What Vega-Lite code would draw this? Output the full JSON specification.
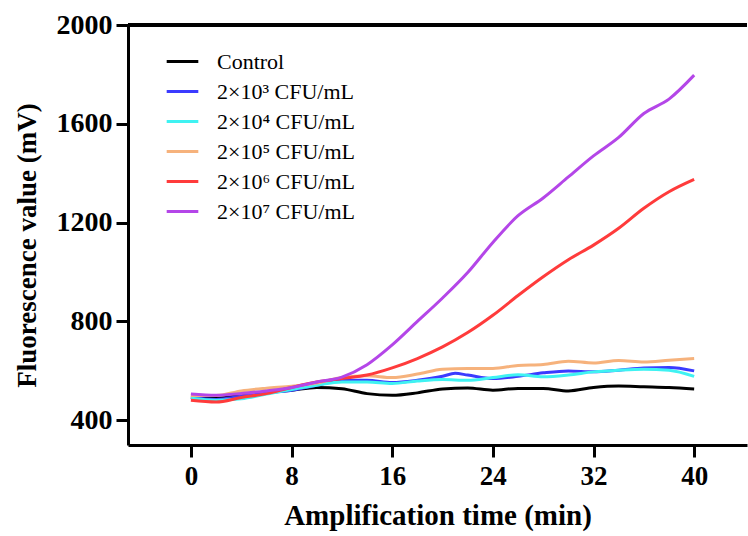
{
  "$schema": "https://vega.github.io/schema/vega-lite/v6.json",
  "autosize": {"type": "none"},
  "padding": {"left": 128, "top": 25, "right": 1, "bottom": 91},
  "width": 619,
  "height": 420,
  "background": "white",
  "config": {"view": {"stroke": null}},
  "data": {"values": [
    {"t":0,"s":"Control","v":492},{"t":2,"s":"Control","v":492},{"t":4,"s":"Control","v":502},{"t":6,"s":"Control","v":512},{"t":8,"s":"Control","v":522},{"t":10,"s":"Control","v":533},{"t":12,"s":"Control","v":528},{"t":14,"s":"Control","v":508},{"t":16,"s":"Control","v":501},{"t":18,"s":"Control","v":511},{"t":20,"s":"Control","v":527},{"t":22,"s":"Control","v":531},{"t":24,"s":"Control","v":522},{"t":26,"s":"Control","v":529},{"t":28,"s":"Control","v":529},{"t":30,"s":"Control","v":519},{"t":32,"s":"Control","v":533},{"t":34,"s":"Control","v":539},{"t":36,"s":"Control","v":536},{"t":38,"s":"Control","v":533},{"t":40,"s":"Control","v":527},
    {"t":0,"s":"2×10³ CFU/mL","v":492},{"t":2,"s":"2×10³ CFU/mL","v":484},{"t":4,"s":"2×10³ CFU/mL","v":497},{"t":6,"s":"2×10³ CFU/mL","v":511},{"t":8,"s":"2×10³ CFU/mL","v":522},{"t":10,"s":"2×10³ CFU/mL","v":542},{"t":12,"s":"2×10³ CFU/mL","v":562},{"t":14,"s":"2×10³ CFU/mL","v":562},{"t":16,"s":"2×10³ CFU/mL","v":553},{"t":18,"s":"2×10³ CFU/mL","v":562},{"t":20,"s":"2×10³ CFU/mL","v":578},{"t":21,"s":"2×10³ CFU/mL","v":590},{"t":22,"s":"2×10³ CFU/mL","v":583},{"t":24,"s":"2×10³ CFU/mL","v":569},{"t":26,"s":"2×10³ CFU/mL","v":578},{"t":28,"s":"2×10³ CFU/mL","v":592},{"t":30,"s":"2×10³ CFU/mL","v":600},{"t":32,"s":"2×10³ CFU/mL","v":596},{"t":34,"s":"2×10³ CFU/mL","v":603},{"t":36,"s":"2×10³ CFU/mL","v":612},{"t":38,"s":"2×10³ CFU/mL","v":614},{"t":40,"s":"2×10³ CFU/mL","v":600},
    {"t":0,"s":"2×10⁴ CFU/mL","v":489},{"t":2,"s":"2×10⁴ CFU/mL","v":481},{"t":4,"s":"2×10⁴ CFU/mL","v":487},{"t":6,"s":"2×10⁴ CFU/mL","v":506},{"t":8,"s":"2×10⁴ CFU/mL","v":525},{"t":10,"s":"2×10⁴ CFU/mL","v":542},{"t":12,"s":"2×10⁴ CFU/mL","v":555},{"t":14,"s":"2×10⁴ CFU/mL","v":555},{"t":16,"s":"2×10⁴ CFU/mL","v":549},{"t":18,"s":"2×10⁴ CFU/mL","v":559},{"t":20,"s":"2×10⁴ CFU/mL","v":565},{"t":22,"s":"2×10⁴ CFU/mL","v":562},{"t":24,"s":"2×10⁴ CFU/mL","v":573},{"t":26,"s":"2×10⁴ CFU/mL","v":584},{"t":28,"s":"2×10⁴ CFU/mL","v":576},{"t":30,"s":"2×10⁴ CFU/mL","v":583},{"t":32,"s":"2×10⁴ CFU/mL","v":596},{"t":34,"s":"2×10⁴ CFU/mL","v":603},{"t":36,"s":"2×10⁴ CFU/mL","v":607},{"t":38,"s":"2×10⁴ CFU/mL","v":603},{"t":40,"s":"2×10⁴ CFU/mL","v":578},
    {"t":0,"s":"2×10⁵ CFU/mL","v":500},{"t":2,"s":"2×10⁵ CFU/mL","v":500},{"t":4,"s":"2×10⁵ CFU/mL","v":519},{"t":6,"s":"2×10⁵ CFU/mL","v":530},{"t":8,"s":"2×10⁵ CFU/mL","v":538},{"t":10,"s":"2×10⁵ CFU/mL","v":551},{"t":12,"s":"2×10⁵ CFU/mL","v":573},{"t":14,"s":"2×10⁵ CFU/mL","v":580},{"t":16,"s":"2×10⁵ CFU/mL","v":573},{"t":18,"s":"2×10⁵ CFU/mL","v":587},{"t":20,"s":"2×10⁵ CFU/mL","v":607},{"t":22,"s":"2×10⁵ CFU/mL","v":610},{"t":24,"s":"2×10⁵ CFU/mL","v":610},{"t":26,"s":"2×10⁵ CFU/mL","v":622},{"t":28,"s":"2×10⁵ CFU/mL","v":626},{"t":30,"s":"2×10⁵ CFU/mL","v":639},{"t":32,"s":"2×10⁵ CFU/mL","v":632},{"t":34,"s":"2×10⁵ CFU/mL","v":642},{"t":36,"s":"2×10⁵ CFU/mL","v":636},{"t":38,"s":"2×10⁵ CFU/mL","v":643},{"t":40,"s":"2×10⁵ CFU/mL","v":650},
    {"t":0,"s":"2×10⁶ CFU/mL","v":481},{"t":2,"s":"2×10⁶ CFU/mL","v":474},{"t":4,"s":"2×10⁶ CFU/mL","v":492},{"t":6,"s":"2×10⁶ CFU/mL","v":508},{"t":8,"s":"2×10⁶ CFU/mL","v":533},{"t":10,"s":"2×10⁶ CFU/mL","v":555},{"t":12,"s":"2×10⁶ CFU/mL","v":569},{"t":14,"s":"2×10⁶ CFU/mL","v":583},{"t":16,"s":"2×10⁶ CFU/mL","v":612},{"t":18,"s":"2×10⁶ CFU/mL","v":650},{"t":20,"s":"2×10⁶ CFU/mL","v":697},{"t":22,"s":"2×10⁶ CFU/mL","v":755},{"t":24,"s":"2×10⁶ CFU/mL","v":825},{"t":26,"s":"2×10⁶ CFU/mL","v":905},{"t":28,"s":"2×10⁶ CFU/mL","v":981},{"t":30,"s":"2×10⁶ CFU/mL","v":1050},{"t":32,"s":"2×10⁶ CFU/mL","v":1109},{"t":34,"s":"2×10⁶ CFU/mL","v":1177},{"t":36,"s":"2×10⁶ CFU/mL","v":1258},{"t":38,"s":"2×10⁶ CFU/mL","v":1325},{"t":40,"s":"2×10⁶ CFU/mL","v":1375},
    {"t":0,"s":"2×10⁷ CFU/mL","v":506},{"t":2,"s":"2×10⁷ CFU/mL","v":501},{"t":4,"s":"2×10⁷ CFU/mL","v":508},{"t":6,"s":"2×10⁷ CFU/mL","v":519},{"t":8,"s":"2×10⁷ CFU/mL","v":533},{"t":10,"s":"2×10⁷ CFU/mL","v":555},{"t":12,"s":"2×10⁷ CFU/mL","v":575},{"t":14,"s":"2×10⁷ CFU/mL","v":625},{"t":16,"s":"2×10⁷ CFU/mL","v":705},{"t":18,"s":"2×10⁷ CFU/mL","v":800},{"t":20,"s":"2×10⁷ CFU/mL","v":895},{"t":22,"s":"2×10⁷ CFU/mL","v":998},{"t":24,"s":"2×10⁷ CFU/mL","v":1120},{"t":26,"s":"2×10⁷ CFU/mL","v":1228},{"t":28,"s":"2×10⁷ CFU/mL","v":1300},{"t":30,"s":"2×10⁷ CFU/mL","v":1385},{"t":32,"s":"2×10⁷ CFU/mL","v":1470},{"t":34,"s":"2×10⁷ CFU/mL","v":1545},{"t":36,"s":"2×10⁷ CFU/mL","v":1642},{"t":38,"s":"2×10⁷ CFU/mL","v":1700},{"t":40,"s":"2×10⁷ CFU/mL","v":1797}
  ]},
  "layer": [
    {
      "mark": {"type": "line", "interpolate": "monotone", "strokeWidth": 3},
      "encoding": {
        "x": {"field": "t", "type": "quantitative",
          "scale": {"domain": [-5, 44.2], "nice": false, "zero": false},
          "axis": {"values": [0, 8, 16, 24, 32, 40], "title": "Amplification time (min)", "grid": false, "format": "d",
            "domainColor": "black", "domainWidth": 3, "tickColor": "black", "tickWidth": 3, "tickSize": 12,
            "labelFont": "Liberation Serif", "labelFontWeight": "bold", "labelFontSize": 27, "labelColor": "black", "labelPadding": 6,
            "titleFont": "Liberation Serif", "titleFontWeight": "bold", "titleFontSize": 29, "titleColor": "black", "titlePadding": 12}},
        "y": {"field": "v", "type": "quantitative",
          "scale": {"domain": [300, 2000], "nice": false, "zero": false},
          "axis": {"values": [400, 800, 1200, 1600, 2000], "title": "Fluorescence value (mV)", "grid": false, "format": "d",
            "domainColor": "black", "domainWidth": 3, "tickColor": "black", "tickWidth": 3, "tickSize": 12,
            "labelFont": "Liberation Serif", "labelFontWeight": "bold", "labelFontSize": 28, "labelColor": "black", "labelPadding": 4,
            "titleFont": "Liberation Serif", "titleFontWeight": "bold", "titleFontSize": 27, "titleColor": "black", "titlePadding": 15, "titleY": 220}},
        "color": {"field": "s", "type": "nominal",
          "scale": {"domain": ["Control", "2×10³ CFU/mL", "2×10⁴ CFU/mL", "2×10⁵ CFU/mL", "2×10⁶ CFU/mL", "2×10⁷ CFU/mL"],
                    "range": ["#000000", "#3b3bff", "#3ff2f2", "#f6b27c", "#ff3b3b", "#b446e8"]},
          "legend": {"orient": "none", "legendX": 37, "legendY": 19, "title": null, "padding": 0,
            "symbolType": "stroke", "symbolSize": 1000, "symbolStrokeWidth": 3,
            "labelFont": "Liberation Serif", "labelFontSize": 22, "labelColor": "black", "labelLimit": 0,
            "labelOffset": 17, "rowPadding": 1}}
      }
    },
    {
      "mark": {"type": "rule", "color": "black", "strokeWidth": 3},
      "encoding": {"y": {"datum": 2000}}
    }
  ]
}
